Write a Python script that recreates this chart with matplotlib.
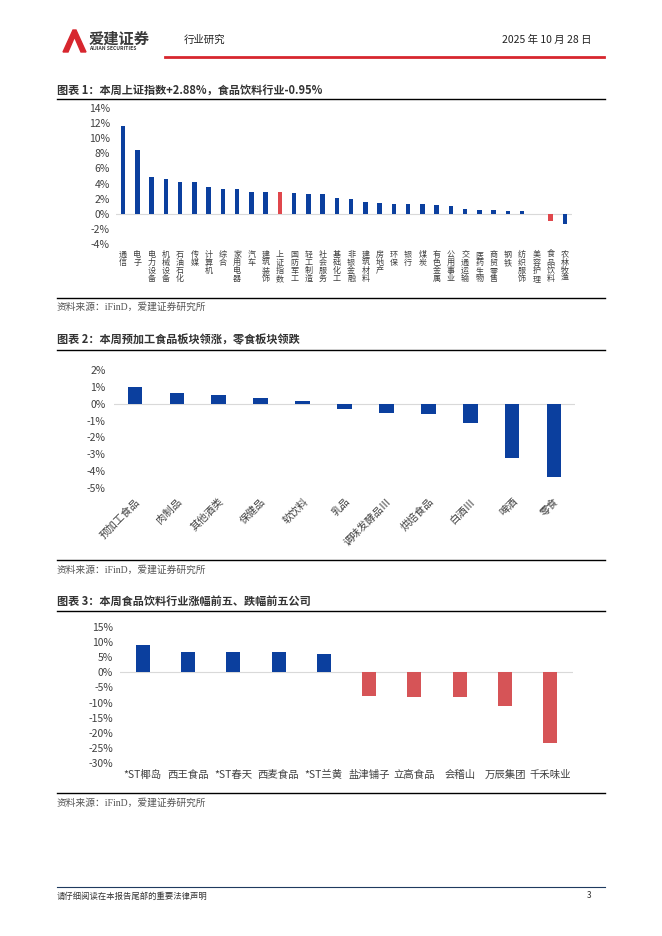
import matplotlib
matplotlib.use("Agg")
import matplotlib.pyplot as plt
from matplotlib.lines import Line2D
from matplotlib.patches import Polygon
from matplotlib.ticker import FuncFormatter
from matplotlib import transforms

plt.rcParams['font.family'] = ['Noto Sans CJK SC', 'DejaVu Sans']

# ---- data ----
industries = ['通信', '电子', '电力设备', '机械设备', '石油石化', '传媒', '计算机', '综合',
              '家用电器', '汽车', '建筑装饰', '上证指数', '国防军工', '轻工制造', '社会服务',
              '基础化工', '非银金融', '建筑材料', '房地产', '环保', '银行', '煤炭', '有色金属',
              '公用事业', '交通运输', '医药生物', '商贸零售', '钢铁', '纺织服饰', '美容护理',
              '食品饮料', '农林牧渔']
industry_chg = [11.57, 8.45, 4.84, 4.66, 4.22, 4.22, 3.52, 3.25, 3.25, 2.90, 2.90, 2.88,
                2.77, 2.64, 2.60, 2.10, 1.98, 1.58, 1.49, 1.36, 1.36, 1.36, 1.10, 1.00,
                0.66, 0.53, 0.44, 0.40, 0.35, -0.05, -0.95, -1.41]
highlight = ['上证指数', '食品饮料']

sectors = ['预加工食品', '肉制品', '其他酒类', '保健品', '软饮料', '乳品',
           '调味发酵品Ⅲ', '烘焙食品', '白酒Ⅲ', '啤酒', '零食']
sector_chg = [0.97, 0.63, 0.49, 0.33, 0.14, -0.32, -0.55, -0.63, -1.13, -3.22, -4.35]

companies = ['*ST椰岛', '西王食品', '*ST春天', '西麦食品', '*ST兰黄',
             '盐津铺子', '立高食品', '会稽山', '万辰集团', '千禾味业']
company_chg = [9.0, 6.8, 6.7, 6.6, 6.2, -7.9, -8.0, -8.1, -11.2, -23.5]

W, H = 662, 936
BLUE = '#0B3F9E'
RED1 = '#E0474C'
RED3 = '#D65457'
GRAY = '#404040'

fig = plt.figure(figsize=(W / 100, H / 100), dpi=100)


def rect(x0, y0, x1, y1):
    return [x0 / W, 1 - y1 / H, (x1 - x0) / W, (y1 - y0) / H]


def hline(x0, x1, y, color='black', lw=1.0):
    fig.add_artist(Line2D([x0 / W, x1 / W], [1 - y / H, 1 - y / H],
                          transform=fig.transFigure, color=color, lw=lw))


def text(x, y, s, **kw):
    fig.text(x / W, 1 - y / H, s, **kw)


def style(ax, pad):
    for sp in ax.spines.values():
        sp.set_visible(False)
    ax.tick_params(length=0, labelsize=7.5, colors=GRAY, pad=pad)
    ax.axhline(0, color='#D9D9D9', lw=0.8, zorder=0)
    ax.yaxis.set_major_formatter(FuncFormatter(lambda v, p: f'{v:.0f}%'))


# ---- header ----
fig.add_artist(Polygon([(63 / W, 1 - 52 / H), (73 / W, 1 - 30 / H), (76 / W, 1 - 30 / H),
                        (86 / W, 1 - 52 / H), (81 / W, 1 - 52 / H), (74.5 / W, 1 - 37 / H),
                        (68 / W, 1 - 52 / H)], closed=True, transform=fig.transFigure,
                       color='#D7262E'))
text(89, 39, '爱建证券', fontsize=11, fontweight='bold', color='#3A3A3A', va='center')
text(89, 49, 'AIJIAN SECURITIES', fontsize=3.6, fontweight='bold', color='#3A3A3A', va='center')
text(184, 40, '行业研究', fontsize=7.5, color='#222222', va='center')
text(591, 40, '2025 年 10 月 28 日', fontsize=7.5, color='#222222', va='center', ha='right')
hline(165, 604, 57, color='#D7262E', lw=2.0)

# ---- chart 1 ----
text(57, 90, '图表 1：本周上证指数+2.88%，食品饮料行业-0.95%', fontsize=8,
     fontweight='bold', color='#333333', va='center')
hline(57, 605, 99)
ax1 = fig.add_axes(rect(116, 108, 572, 244))
x1 = range(len(industries))
c1 = [RED1 if n in highlight else BLUE for n in industries]
ax1.bar(x1, industry_chg, width=0.3, color=c1)
ax1.set_xlim(-0.5, len(industries) - 0.5)
ax1.set_ylim(-4, 14)
ax1.set_yticks(range(-4, 15, 2))
ax1.set_xticks([])
style(ax1, 4.5)
# vertical (stacked) category labels, one character per row
trans1 = transforms.blended_transform_factory(ax1.transData, ax1.transAxes)
ax_h1 = 244 - 108
for i, name in enumerate(industries):
    for j, ch in enumerate(name):
        ax1.text(i, -(6 + 8 * j) / ax_h1, ch, transform=trans1, fontsize=5.8,
                 color=GRAY, ha='center', va='top')
hline(57, 605, 298)
text(57, 307, '资料来源：iFinD，爱建证券研究所', fontsize=7, color='#555555', va='center',
     family=['Liberation Serif', 'Noto Sans CJK SC'])

# ---- chart 2 ----
text(57, 340, '图表 2：本周预加工食品板块领涨，零食板块领跌', fontsize=8,
     fontweight='bold', color='#333333', va='center')
hline(57, 605, 350)
ax2 = fig.add_axes(rect(114, 370, 575, 488))
x2 = range(len(sectors))
ax2.bar(x2, sector_chg, width=0.35, color=BLUE)
ax2.set_xlim(-0.5, len(sectors) - 0.5)
ax2.set_ylim(-5, 2)
ax2.set_yticks(range(-5, 3))
ax2.set_xticks(list(x2))
ax2.set_xticklabels(sectors, rotation=45, ha='right', rotation_mode='anchor', fontsize=7)
style(ax2, 6)
hline(57, 605, 560)
text(57, 570, '资料来源：iFinD，爱建证券研究所', fontsize=7, color='#555555', va='center',
     family=['Liberation Serif', 'Noto Sans CJK SC'])

# ---- chart 3 ----
text(57, 601, '图表 3：本周食品饮料行业涨幅前五、跌幅前五公司', fontsize=8,
     fontweight='bold', color='#333333', va='center')
hline(57, 605, 611)
ax3 = fig.add_axes(rect(120, 627, 573, 763))
x3 = range(len(companies))
c3 = [BLUE if v > 0 else RED3 for v in company_chg]
ax3.bar(x3, company_chg, width=0.31, color=c3)
ax3.set_xlim(-0.5, len(companies) - 0.5)
ax3.set_ylim(-30, 15)
ax3.set_yticks(range(-30, 16, 5))
ax3.set_xticks(list(x3))
ax3.set_xticklabels(companies, fontsize=7)
style(ax3, 5)
hline(57, 605, 793)
text(57, 803, '资料来源：iFinD，爱建证券研究所', fontsize=7, color='#555555', va='center',
     family=['Liberation Serif', 'Noto Sans CJK SC'])

# ---- footer ----
hline(57, 605, 887, color='#1F3A5F', lw=0.8)
text(57, 896, '请仔细阅读在本报告尾部的重要法律声明', fontsize=6, color='#333333', va='center')
text(591, 896, '3', fontsize=6, color='#333333', va='center', ha='right')

fig.savefig('out.png', dpi=100)
